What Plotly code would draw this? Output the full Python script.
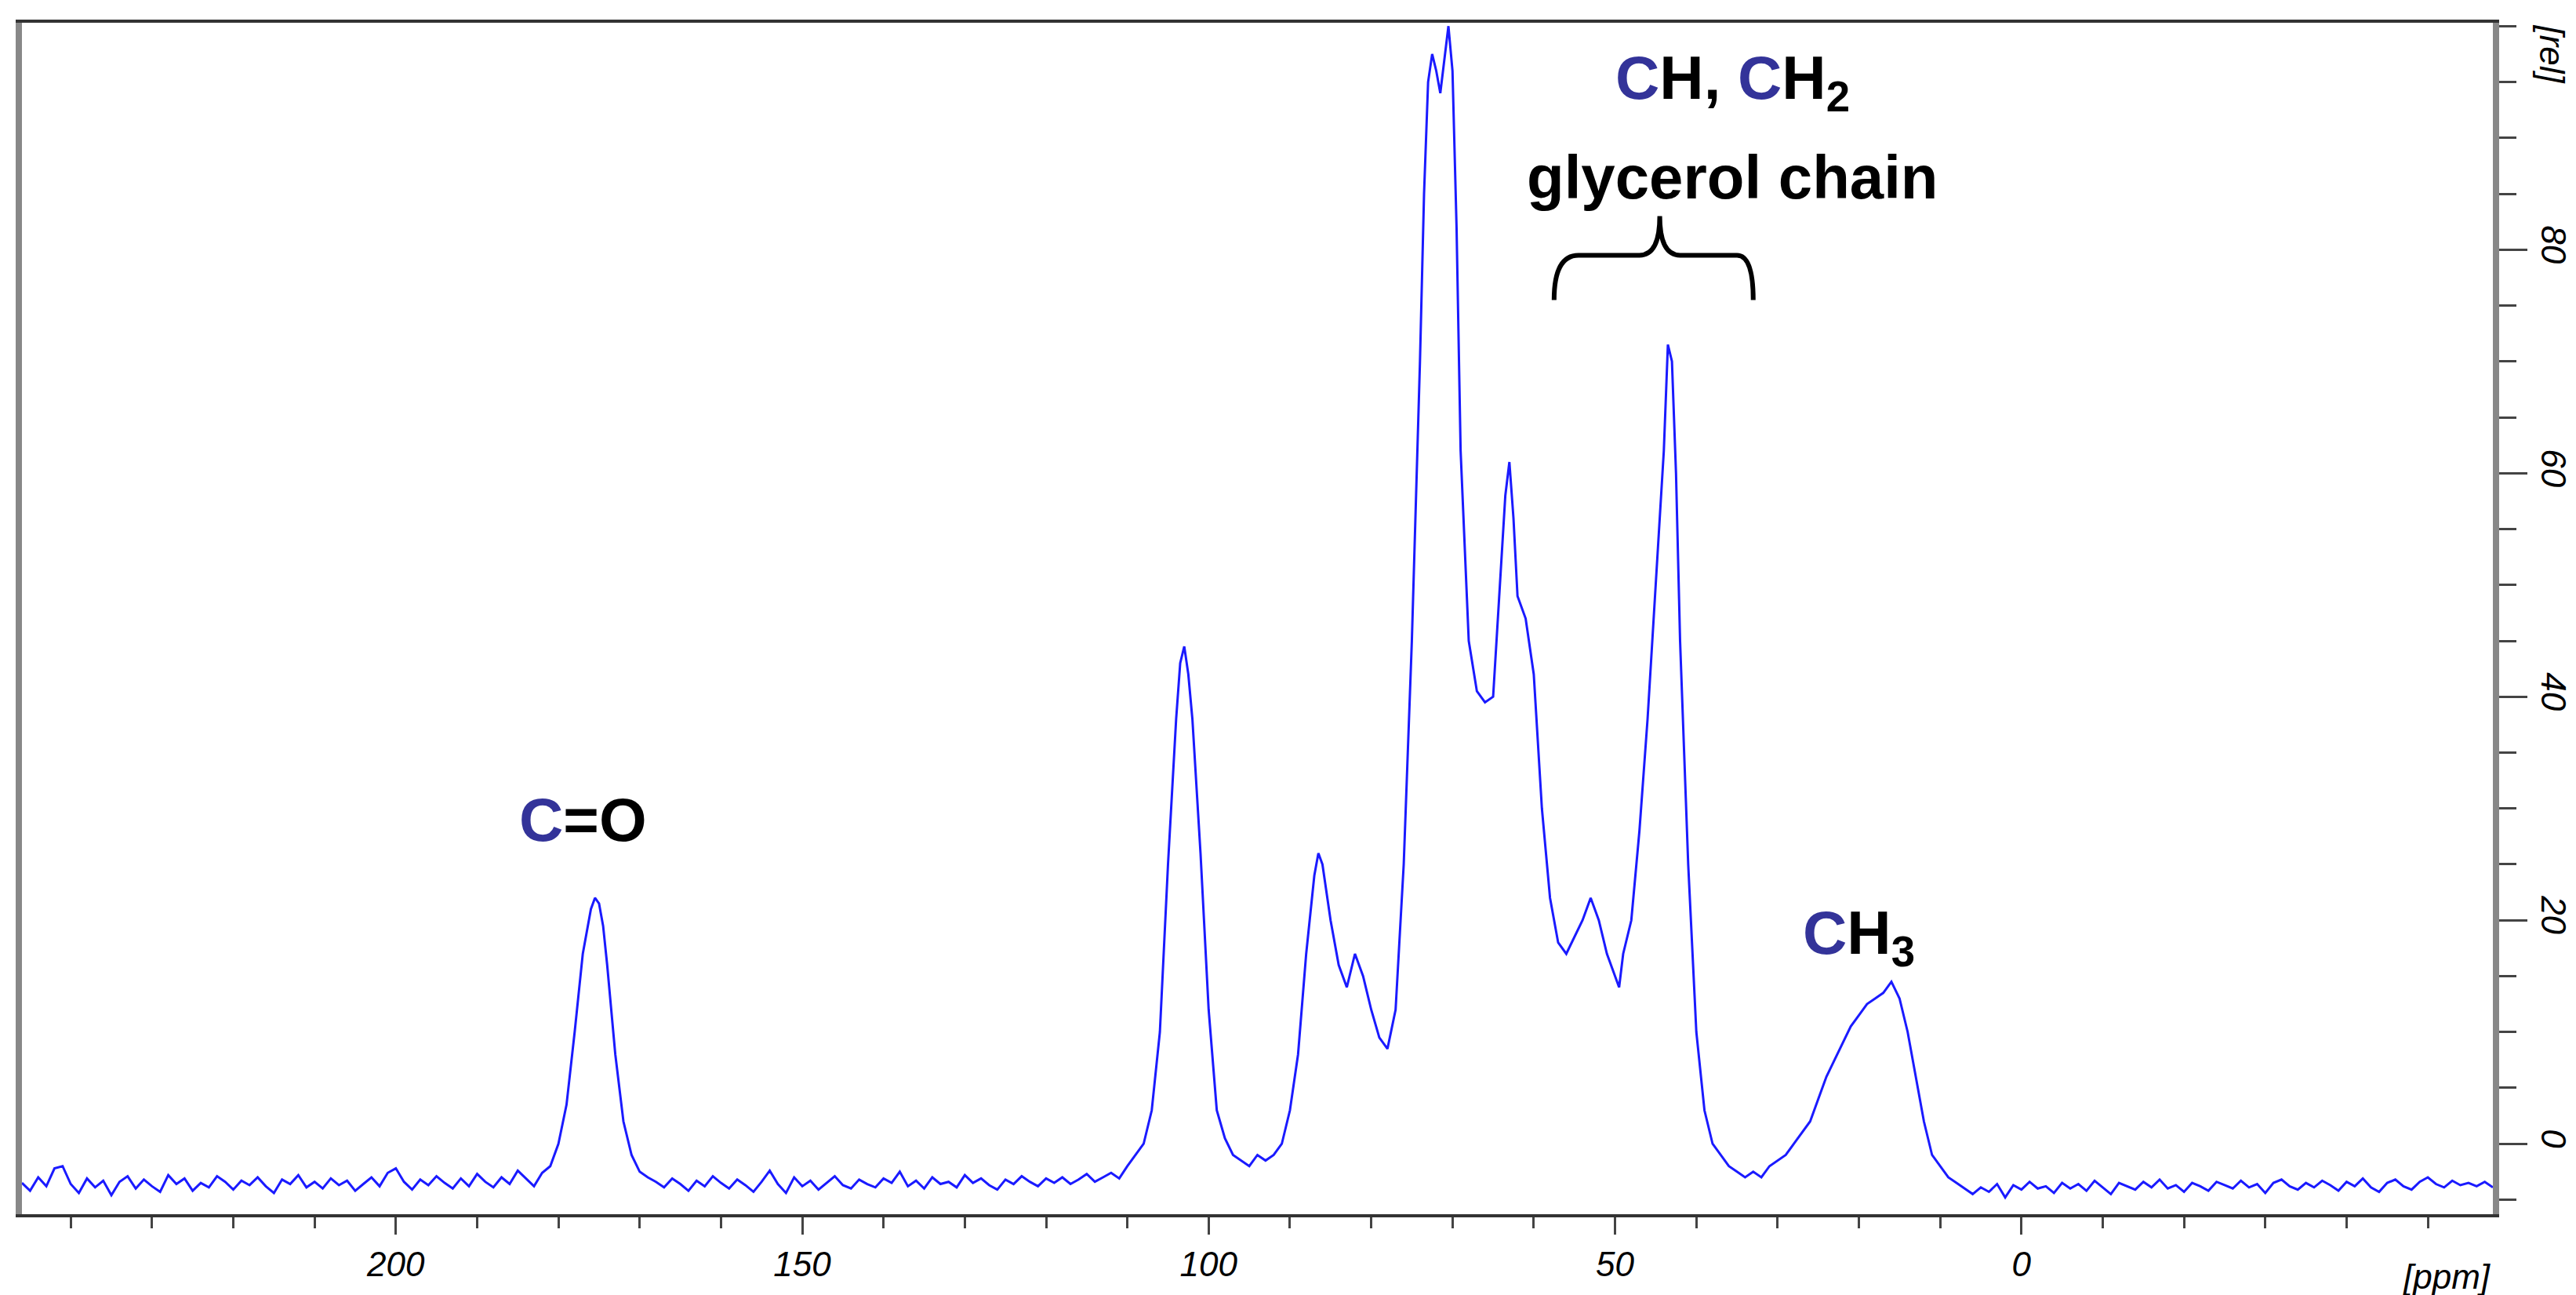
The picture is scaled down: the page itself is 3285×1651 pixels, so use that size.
import plotly.graph_objects as go

# chemical shift (ppm) and intensity
baseline_left_ppm = list(range(246, 181, -1))
baseline_left_int = [-3.5, -4.2, -3.0, -3.8, -2.2, -2.0, -3.6, -4.4, -3.1, -3.9, -3.3, -4.6, -3.4, -2.9, -4.0,
                     -3.2, -3.8, -4.3, -2.8, -3.6, -3.1, -4.2, -3.5, -3.9, -2.9, -3.4, -4.1, -3.3, -3.7, -3.0,
                     -3.8, -4.4, -3.2, -3.6, -2.8, -3.9, -3.4, -4.0, -3.1, -3.7, -3.3, -4.2, -3.6, -3.0, -3.8,
                     -2.6, -2.2, -3.4, -4.1, -3.2, -3.7, -2.9, -3.5, -4.0, -3.1, -3.8, -2.7, -3.4, -3.9, -3.0,
                     -3.6, -2.4, -3.1, -3.8, -2.6]
carbonyl_ppm = [181, 180, 179, 178, 177, 176, 175.5, 175, 174.5, 174, 173, 172, 171, 170, 169]
carbonyl_int = [-2.0, 0.0, 3.5, 10.0, 17.0, 21.0, 22.0, 21.5, 19.5, 16.0, 8.0, 2.0, -1.0, -2.5, -3.0]
baseline_mid_ppm = list(range(168, 110, -1))
baseline_mid_int = [-3.4, -3.9, -3.1, -3.6, -4.2, -3.3, -3.8, -2.9, -3.5, -4.0, -3.2, -3.7, -4.3, -3.4, -2.4,
                    -3.6, -4.4, -3.0, -3.8, -3.3, -4.1, -3.5, -2.9, -3.7, -4.0, -3.2, -3.6, -3.9, -3.1, -3.5,
                    -2.5, -3.8, -3.3, -4.0, -3.0, -3.6, -3.4, -3.9, -2.8, -3.5, -3.1, -3.7, -4.1, -3.2, -3.6,
                    -2.9, -3.4, -3.8, -3.1, -3.5, -3.0, -3.6, -3.2, -2.7, -3.4, -3.0, -2.6, -3.1]
sugar_ppm = [110, 109, 108, 107, 106, 105, 104, 103.5, 103, 102.5, 102, 101, 100, 99, 98, 97, 96, 95, 94, 93,
             92, 91, 90, 89, 88, 87, 86.5, 86, 85, 84, 83, 82, 81, 80, 79, 78, 77, 76, 75, 74, 73.5, 73, 72.5,
             72, 71.5, 71, 70.5, 70, 69.5, 69, 68, 67, 66, 65, 64, 63.5, 63, 62.5, 62, 61, 60, 59, 58, 57, 56,
             55, 54, 53, 52, 51, 50, 49.5, 49, 48, 47, 46, 45, 44, 43.5, 43, 42.5, 42, 41, 40, 39, 38, 37, 36,
             35, 34, 33, 32, 31, 30]
sugar_int = [-2.0, -1.0, 0.0, 3.0, 10.0, 25.0, 38.0, 43.0, 44.5, 42.0, 38.0, 26.0, 12.0, 3.0, 0.5, -1.0, -1.5,
             -2.0, -1.0, -1.5, -1.0, 0.0, 3.0, 8.0, 17.0, 24.0, 26.0, 25.0, 20.0, 16.0, 14.0, 17.0, 15.0, 12.0,
             9.5, 8.5, 12.0, 25.0, 45.0, 70.0, 85.0, 95.0, 97.5, 96.0, 94.0, 97.0, 100.0, 96.0, 82.0, 62.0, 45.0,
             40.5, 39.5, 40.0, 52.0, 58.0, 61.0, 56.0, 49.0, 47.0, 42.0, 30.0, 22.0, 18.0, 17.0, 18.5, 20.0, 22.0,
             20.0, 17.0, 15.0, 14.0, 17.0, 20.0, 28.0, 38.0, 50.0, 62.0, 71.5, 70.0, 60.0, 45.0, 25.0, 10.0, 3.0,
             0.0, -1.0, -2.0, -2.5, -3.0, -2.5, -3.0, -2.0, -1.5]
methyl_ppm = list(range(29, 5, -1))
methyl_int = [-1.0, 0.0, 1.0, 2.0, 4.0, 6.0, 7.5, 9.0, 10.5, 11.5, 12.5, 13.0, 13.5, 14.5, 13.0, 10.0, 6.0,
              2.0, -1.0, -2.0, -3.0, -3.5, -4.0, -4.5]
baseline_right_ppm = list(range(5, -59, -1))
baseline_right_int = [-3.9, -4.3, -3.6, -4.8, -3.7, -4.1, -3.4, -4.0, -3.8, -4.4, -3.5, -4.0, -3.6, -4.2, -3.3,
                      -3.9, -4.5, -3.5, -3.8, -4.1, -3.4, -3.9, -3.2, -4.0, -3.7, -4.3, -3.5, -3.8, -4.2, -3.4,
                      -3.7, -4.0, -3.3, -3.9, -3.6, -4.4, -3.5, -3.2, -3.8, -4.1, -3.5, -3.9, -3.3, -3.7, -4.2,
                      -3.4, -3.8, -3.1, -3.9, -4.3, -3.5, -3.2, -3.8, -4.1, -3.4, -3.0, -3.6, -3.9, -3.3, -3.7,
                      -3.5, -3.8, -3.4, -3.9]

ppm = baseline_left_ppm + carbonyl_ppm + baseline_mid_ppm + sugar_ppm + methyl_ppm + baseline_right_ppm
intensity = baseline_left_int + carbonyl_int + baseline_mid_int + sugar_int + methyl_int + baseline_right_int

fig = go.Figure(go.Scatter(x=ppm, y=intensity, mode='lines',
                           line=dict(color='#1a1aff', width=3), showlegend=False))

label_font = dict(family='Arial, Liberation Sans', size=78, color='black')
blue = '#333399'
fig.add_annotation(x=177, y=29, text=f'<b><span style="color:{blue}">C</span>=O</b>',
                   showarrow=False, font=label_font)
fig.add_annotation(x=20, y=18.5, text=f'<b><span style="color:{blue}">C</span>H<sub>3</sub></b>',
                   showarrow=False, font=label_font)
fig.add_annotation(x=35.5, y=95, text=f'<b><span style="color:{blue}">C</span>H, <span style="color:{blue}">C</span>H<sub>2</sub></b>',
                   showarrow=False, font=label_font)
fig.add_annotation(x=35.5, y=86.5, text='<b>glycerol chain</b>', showarrow=False, font=label_font)

# curly brace over the glycerol region
fig.add_shape(type='path', xref='x', yref='y',
              path='M 57.5,75.5 Q 57.5,79.5 54.5,79.5 L 47,79.5 Q 44.5,79.5 44.5,83 '
                   'Q 44.5,79.5 42,79.5 L 35,79.5 Q 33,79.5 33,75.5',
              line=dict(color='black', width=6))

tick_font = dict(family='Arial, Liberation Sans', size=44, color='black')
fig.add_annotation(xref='paper', yref='paper', x=1.0, y=-0.035, xanchor='right', yanchor='top',
                   text='<i>[ppm]</i>', showarrow=False, font=tick_font)
fig.add_annotation(xref='paper', yref='paper', x=1.024, y=1.0, xanchor='center', yanchor='top',
                   text='<i>[rel]</i>', showarrow=False, font=tick_font, textangle=90)

fig.update_xaxes(range=[246, -58], tickvals=[200, 150, 100, 50, 0], ticktext=['<i>200</i>', '<i>150</i>',
                 '<i>100</i>', '<i>50</i>', '<i>0</i>'], ticks='outside', ticklen=22, tickwidth=3,
                 minor=dict(dtick=10, tick0=0, ticks='outside', ticklen=14, tickwidth=3),
                 showgrid=False, zeroline=False, showline=True, linecolor='#333333', linewidth=4,
                 mirror=True, tickfont=tick_font)
fig.update_yaxes(range=[-6.3, 100.3], side='right', tickvals=[0, 20, 40, 60, 80],
                 ticktext=['<i>0</i>', '<i>20</i>', '<i>40</i>', '<i>60</i>', '<i>80</i>'],
                 tickangle=90, ticks='outside', ticklen=36, tickwidth=3,
                 minor=dict(dtick=5, tick0=0, ticks='outside', ticklen=22, tickwidth=3),
                 showgrid=False, zeroline=False, showline=True, linecolor='#888888', linewidth=8,
                 mirror=True, tickfont=tick_font)

fig.update_layout(width=3285, height=1651, margin=dict(l=17, r=111, t=21, b=111),
                  plot_bgcolor='white', paper_bgcolor='white')
fig.write_html('out.html')
